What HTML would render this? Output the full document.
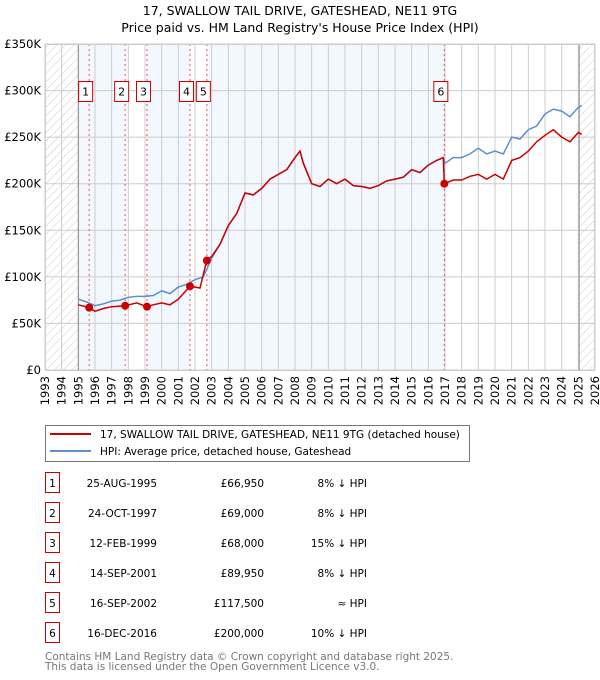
<!DOCTYPE html>
<html><head><meta charset="utf-8"><style>
body{margin:0;background:#fff;font-family:"DejaVu Sans","Liberation Sans",sans-serif;}
svg{display:block}
</style></head><body>
<svg id="chart" width="600" height="680" xmlns="http://www.w3.org/2000/svg" font-family="DejaVu Sans, Liberation Sans, sans-serif">
<defs><pattern id="hatch" width="6" height="6" patternUnits="userSpaceOnUse" patternTransform="rotate(45)"><line x1="0" y1="0" x2="0" y2="6" stroke="#ccc" stroke-width="1"/></pattern></defs>
<text x="300" y="15" text-anchor="middle" font-size="12.5" fill="#000">17, SWALLOW TAIL DRIVE, GATESHEAD, NE11 9TG</text>
<text x="300" y="32" text-anchor="middle" font-size="12.5" fill="#000">Price paid vs. HM Land Registry's House Price Index (HPI)</text>
<g id="plot"></g>
<g id="legend">
<rect x="45.5" y="425.5" width="424" height="36" fill="#fff" stroke="#777"/>
<line x1="50" y1="434" x2="91" y2="434" stroke="#cc0000" stroke-width="2"/>
<text x="100" y="438" font-size="10.5">17, SWALLOW TAIL DRIVE, GATESHEAD, NE11 9TG (detached house)</text>
<line x1="50" y1="451" x2="91" y2="451" stroke="#5b8fd0" stroke-width="2"/>
<text x="100" y="455" font-size="10.5">HPI: Average price, detached house, Gateshead</text>
</g>
<g id="table" font-size="10.5"></g>
<text x="45" y="660" font-size="10.5" fill="#777">Contains HM Land Registry data © Crown copyright and database right 2025.</text>
<text x="45" y="670" font-size="10.5" fill="#777">This data is licensed under the Open Government Licence v3.0.</text>
</svg>
<script>
const yearTicks=[1993,1994,1995,1996,1997,1998,1999,2000,2001,2002,2003,2004,2005,2006,2007,2008,2009,2010,2011,2012,2013,2014,2015,2016,2017,2018,2019,2020,2021,2022,2023,2024,2025,2026];
const valueTicks=[0,50000,100000,150000,200000,250000,300000,350000];
const valueTickLabels=["£0","£50K","£100K","£150K","£200K","£250K","£300K","£350K"];
const hpiYears=[1995,1995.5,1996,1996.5,1997,1997.5,1998,1998.5,1999,1999.5,2000,2000.5,2001,2001.5,2002,2002.5,2003,2003.5,2004,2004.5,2005,2005.5,2006,2006.5,2007,2007.5,2008,2008.3,2008.5,2009,2009.5,2010,2010.5,2011,2011.5,2012,2012.5,2013,2013.5,2014,2014.5,2015,2015.5,2016,2016.5,2016.9,2017,2017.5,2018,2018.5,2019,2019.5,2020,2020.5,2021,2021.5,2022,2022.5,2023,2023.5,2024,2024.5,2025,2025.2];
const hpiValues=[76000,73000,69000,71000,74000,75000,78000,79000,79000,80000,85000,82000,89000,92000,97000,100000,120000,135000,155000,168000,190000,188000,195000,205000,210000,215000,228000,235000,222000,200000,197000,205000,200000,205000,198000,197000,195000,198000,203000,205000,207000,215000,212000,220000,225000,228000,222000,228000,228000,232000,238000,232000,235000,232000,250000,248000,258000,262000,275000,280000,278000,272000,282000,284000];
const priceYears=[1995,1995.65,1996,1996.5,1997,1997.8,1998.5,1999.1,1999.5,2000,2000.5,2001,2001.7,2002.3,2002.7,2003,2003.5,2004,2004.5,2005,2005.5,2006,2006.5,2007,2007.5,2008,2008.3,2008.5,2009,2009.5,2010,2010.5,2011,2011.5,2012,2012.5,2013,2013.5,2014,2014.5,2015,2015.5,2016,2016.5,2016.9,2016.96,2017.5,2018,2018.5,2019,2019.5,2020,2020.5,2021,2021.5,2022,2022.5,2023,2023.5,2024,2024.5,2025,2025.2];
const priceValues=[70000,67000,63000,66000,68000,69000,72000,68000,70000,72000,70000,76000,90000,88000,117500,122000,135000,155000,168000,190000,188000,195000,205000,210000,215000,228000,235000,222000,200000,197000,205000,200000,205000,198000,197000,195000,198000,203000,205000,207000,215000,212000,220000,225000,228000,200000,204000,204000,208000,210000,205000,210000,205000,225000,228000,235000,245000,252000,258000,250000,245000,255000,253000];
const saleLabels=["1","2","3","4","5","6"];
const saleYears=[1995.65,1997.81,1999.12,2001.7,2002.71,2016.96];
const salePrices=[66950,69000,68000,89950,117500,200000];
const saleDates=["25-AUG-1995","24-OCT-1997","12-FEB-1999","14-SEP-2001","16-SEP-2002","16-DEC-2016"];
const salePriceText=["£66,950","£69,000","£68,000","£89,950","£117,500","£200,000"];
const saleHpiText=["8% ↓ HPI","8% ↓ HPI","15% ↓ HPI","8% ↓ HPI","≈ HPI","10% ↓ HPI"];

const NS="http://www.w3.org/2000/svg";
const X0=45,X1=595,Y0=370,Y1=44;
const xs=y=>X0+(y-1993)/(2026-1993)*(X1-X0);
const ys=v=>Y0-(v/350000)*(Y0-Y1);
function mk(tag,attrs,parent){const e=document.createElementNS(NS,tag);for(const k in attrs)e.setAttribute(k,attrs[k]);parent.appendChild(e);return e;}
const plot=document.getElementById('plot');
const bandEdges=[1995,saleYears[1],saleYears[2],saleYears[3],saleYears[4],saleYears[5]];
for(let i=0;i<bandEdges.length;i+=2){
  const r=mk('rect',{x:xs(bandEdges[i]),y:Y1,width:xs(bandEdges[i+1])-xs(bandEdges[i]),height:Y0-Y1,fill:'#eef3fd',opacity:0.7},plot);
  
  
}
let h=mk('rect',{x:X0,y:Y1,width:xs(1995)-X0,height:Y0-Y1,fill:'url(#hatch)'},plot);


h=mk('rect',{x:xs(2025.05),y:Y1,width:X1-xs(2025.05),height:Y0-Y1,fill:'url(#hatch)'},plot);


yearTicks.forEach(t=>{
  const l=mk('line',{x1:xs(t),x2:xs(t),y1:Y1,y2:Y0,stroke:'#ccc','stroke-width':1},plot);
  
  
  const tx=mk('text',{x:0,y:0,'font-size':11.5,'text-anchor':'end',transform:`translate(${xs(t)+4},376) rotate(-90)`},plot);
  tx.textContent=t;
  
  
});
valueTicks.forEach((v,i)=>{
  const l=mk('line',{x1:X0,x2:X1,y1:ys(v),y2:ys(v),stroke:'#ccc','stroke-width':1},plot);
  
  
  const tx=mk('text',{x:41,y:ys(v)+4,'font-size':11.5,'text-anchor':'end'},plot);
  tx.textContent=valueTickLabels[i];
  
  
});
[1995,2025.05].forEach(t=>{
  const l=mk('line',{x1:xs(t),x2:xs(t),y1:Y1,y2:Y0,stroke:'#888','stroke-width':1},plot);
  
  
});
saleYears.forEach((s,i)=>{
  const l=mk('line',{x1:xs(s),x2:xs(s),y1:Y1,y2:Y0,stroke:'#ee5555','stroke-width':1,'stroke-dasharray':'2,3'},plot);
  
  
});
const hp=hpiYears.map((y,i)=>`${xs(y).toFixed(1)},${ys(hpiValues[i]).toFixed(1)}`).join(' ');
const hl=mk('polyline',{points:hp,fill:'none',stroke:'#5b8fd0','stroke-width':1.5},plot);


const pp=priceYears.map((y,i)=>`${xs(y).toFixed(1)},${ys(priceValues[i]).toFixed(1)}`).join(' ');
const pl=mk('polyline',{points:pp,fill:'none',stroke:'#cc0000','stroke-width':1.5},plot);


saleYears.forEach((s,i)=>{
  const c=mk('circle',{cx:xs(s),cy:ys(salePrices[i]),r:4,fill:'#cc0000'},plot);
  
  
  const g=mk('g',{},plot);
  
  
  mk('rect',{x:xs(s)-10.5,y:81.5,width:14,height:20,fill:'#fff',stroke:'#cc0000'},g);
  const t=mk('text',{x:xs(s)-3.5,y:95.5,'font-size':11,'text-anchor':'middle'},g);
  t.textContent=saleLabels[i];
});
const f=mk('rect',{x:X0+0.5,y:Y1+0.5,width:X1-X0-1,height:Y0-Y1,fill:'none',stroke:'#ccc'},plot);


const tb=document.getElementById('table');
saleLabels.forEach((lab,i)=>{
  const cy=483+i*30;
  const row=mk('g',{},tb);
  
  
  mk('rect',{x:45.5,y:cy-10.5,width:14,height:20,fill:'#fff',stroke:'#cc0000'},row);
  let t=mk('text',{x:52.5,y:cy+4,'text-anchor':'middle'},row);t.textContent=lab;
  t=mk('text',{x:157,y:cy+4,'text-anchor':'end'},row);t.textContent=saleDates[i];
  t=mk('text',{x:264,y:cy+4,'text-anchor':'end'},row);t.textContent=salePriceText[i];
  t=mk('text',{x:367,y:cy+4,'text-anchor':'end'},row);t.textContent=saleHpiText[i];
});
</script>
</body></html>
